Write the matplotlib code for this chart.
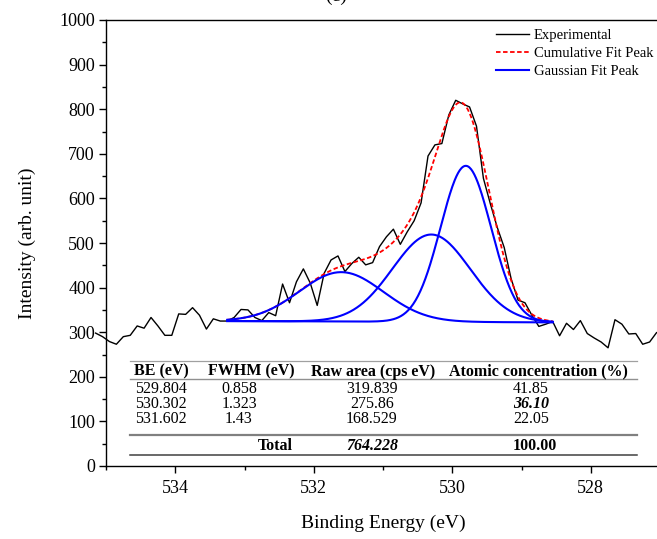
import numpy as np
import matplotlib.pyplot as plt
from matplotlib.lines import Line2D
from matplotlib.ticker import MultipleLocator

plt.rcParams['font.family'] = ['Liberation Serif', 'DejaVu Serif']

# experimental O 1s spectrum
be = [535.15, 535.05, 534.95, 534.85, 534.75, 534.65, 534.55, 534.45, 534.35, 534.25,
      534.15, 534.05, 533.95, 533.85, 533.75, 533.65, 533.55, 533.45, 533.35, 533.25,
      533.15, 533.05, 532.95, 532.85, 532.75, 532.65, 532.55, 532.45, 532.35, 532.25,
      532.15, 532.05, 531.95, 531.85, 531.75, 531.65, 531.55, 531.45, 531.35, 531.25,
      531.15, 531.05, 530.95, 530.85, 530.75, 530.65, 530.55, 530.45, 530.35, 530.25,
      530.15, 530.05, 529.95, 529.85, 529.75, 529.65, 529.55, 529.45, 529.35, 529.25,
      529.15, 529.05, 528.95, 528.85, 528.75, 528.65, 528.55, 528.45, 528.35, 528.25,
      528.15, 528.05, 527.95, 527.85, 527.75, 527.65, 527.55, 527.45, 527.35, 527.25,
      527.15, 527.05, 526.95]
counts = [298, 290, 279, 273, 290, 293, 314, 309, 333, 314,
          293, 293, 341, 340, 355, 338, 307, 330, 325, 325,
          333, 351, 350, 333, 326, 344, 337, 408, 366, 413,
          442, 410, 360, 432, 462, 471, 436, 454, 468, 451,
          456, 492, 514, 531, 497, 525, 550, 590, 695, 720,
          723, 787, 820, 812, 805, 762, 645, 588, 535, 490,
          420, 372, 366, 338, 313, 318, 324, 292, 320, 306,
          326, 297, 287, 278, 265, 328, 318, 296, 297, 273,
          278, 299, 305]

# fit results (from the table in the chart)
peak_be = [529.804, 530.302, 531.602]
peak_fwhm = [0.858, 1.323, 1.43]
peak_area = [319.839, 275.86, 168.529]
atomic = ['41.85', '36.10', '22.05']
fit_range = [533.25, 528.55]
background = [325, 322]

fit_x = np.linspace(fit_range[0], fit_range[1], 400)
bg = np.interp(fit_x, fit_range[::-1], background[::-1])
peaks = []
for c, w, a in zip(peak_be, peak_fwhm, peak_area):
    s = w / (2 * np.sqrt(2 * np.log(2)))
    peaks.append(a / (s * np.sqrt(2 * np.pi)) * np.exp(-0.5 * ((fit_x - c) / s) ** 2))
cumulative = bg + np.sum(peaks, axis=0)

W, H = 657, 539
fig = plt.figure(figsize=(W / 100, H / 100), dpi=100)
ax = fig.add_axes([106 / W, 1 - 466 / H, (660 - 106) / W, (466 - 20) / H])


def fx(px):
    return px / W


def fy(py):
    return 1 - py / H


ax.plot(be, counts, color='black', lw=1.0, clip_on=False, zorder=2, label='Experimental')
ax.plot(fit_x, cumulative, color='red', lw=1.3, ls=(0, (2.5, 1.4)), zorder=3,
        label='Cumulative Fit Peak')
for i, p in enumerate(peaks):
    ax.plot(fit_x, bg + p, color='blue', lw=1.5, zorder=4,
            label='Gaussian Fit Peak' if i == 0 else None)

ax.set_xlim(535, 527)
ax.set_ylim(0, 1000)
ax.xaxis.set_major_locator(MultipleLocator(2))
ax.xaxis.set_minor_locator(MultipleLocator(1))
ax.yaxis.set_major_locator(MultipleLocator(100))
ax.yaxis.set_minor_locator(MultipleLocator(50))
ax.tick_params(which='major', direction='out', length=5, width=1, labelsize=13, pad=3)
ax.tick_params(which='minor', direction='out', length=3, width=1)
ax.tick_params(axis='x', pad=5)
for sp in ax.spines.values():
    sp.set_linewidth(1.0)

ax.set_xlabel('Binding Energy (eV)', fontsize=14, labelpad=13)
ax.set_ylabel('Intensity (arb. unit)', fontsize=14, labelpad=17)

fig.text(fx(336), fy(-4), '(c)', fontsize=14, ha='center', va='center')

leg = ax.legend(loc='upper left', bbox_to_anchor=(fx(496), fy(29)),
                bbox_transform=fig.transFigure, frameon=False, fontsize=10.5,
                handlelength=2.25, handletextpad=0.35, labelspacing=0.33,
                borderpad=0, borderaxespad=0)

# table inside the plot
tsize = 11.5
header_y = 371.7
row_y = [389, 404.3, 419.3]
total_y = 445.7
headers = ['BE (eV)', 'FWHM (eV)', 'Raw area (cps eV)', 'Atomic concentration (%)']
header_x = [161, 251, 372.7, 538]
for t, x in zip(headers, header_x):
    fig.text(fx(x), fy(header_y), t, fontsize=tsize, fontweight='bold', ha='center', va='center')

for i in range(3):
    y = fy(row_y[i])
    fig.text(fx(161), y, '%.3f' % peak_be[i], fontsize=tsize, ha='center', va='center')
    fig.text(fx(239), y, str(peak_fwhm[i]), fontsize=tsize, ha='center', va='center')
    fig.text(fx(372), y, str(peak_area[i]), fontsize=tsize, ha='center', va='center')
    if i == 1:
        fig.text(fx(531), y, atomic[i], fontsize=tsize, ha='center', va='center',
                 fontweight='bold', fontstyle='italic')
    else:
        fig.text(fx(531), y, atomic[i], fontsize=tsize, ha='center', va='center')

fig.text(fx(293), fy(total_y), 'Total', fontsize=tsize, fontweight='bold', ha='right', va='center')
fig.text(fx(372), fy(total_y), '%.3f' % sum(peak_area), fontsize=tsize, fontweight='bold',
         fontstyle='italic', ha='center', va='center')
fig.text(fx(535), fy(total_y), '100.00', fontsize=tsize, fontweight='bold', ha='center', va='center')

for y, c, lw in [(361, '#a0a0a0', 0.9), (379, '#909090', 1.0), (435, '#808080', 1.6), (455, '#404040', 1.1)]:
    fig.add_artist(Line2D([fx(130), fx(637)], [fy(y), fy(y)], color=c, lw=lw,
                          transform=fig.transFigure))

fig.savefig('out.png', dpi=100)
